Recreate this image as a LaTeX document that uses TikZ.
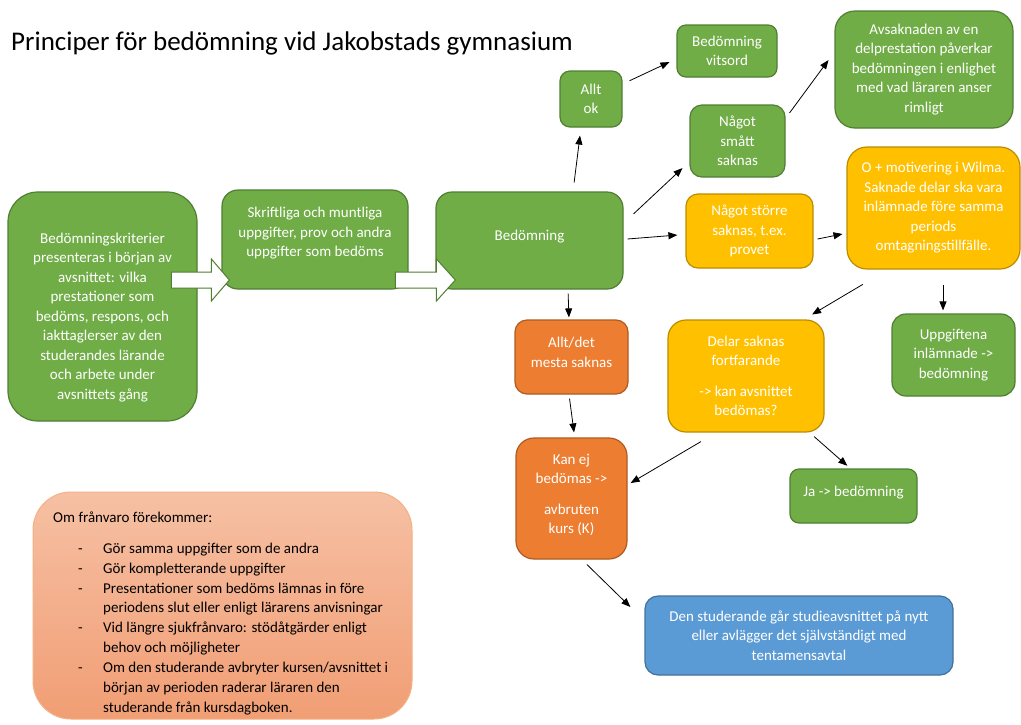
\documentclass[tikz,border=0pt]{standalone}
\usepackage{fontspec}
\setmainfont{Carlito}
\usepackage{xcolor}
\usetikzlibrary{arrows.meta}
\usetikzlibrary{calc}
\definecolor{gfill}{HTML}{70AD47}
\definecolor{gline}{HTML}{507E32}
\definecolor{ofill}{HTML}{ED7D31}
\definecolor{oline}{HTML}{AE5A21}
\definecolor{yfill}{HTML}{FFC000}
\definecolor{yline}{HTML}{BC8C00}
\definecolor{bfill}{HTML}{5B9BD5}
\definecolor{bline}{HTML}{41719C}
\definecolor{ptop}{RGB}{246, 192, 164}
\definecolor{pbot}{RGB}{241, 158, 116}
\definecolor{pline}{RGB}{244, 177, 131}

\begin{document}
\begin{tikzpicture}[x=1pt, y=-1pt,
    box/.style={line width=1.2pt, text=white, align=center, inner sep=0pt,
        font=\fontsize{15}{19.5}\selectfont},
    grn/.style={box, fill=gfill, draw=gline},
    org/.style={box, fill=ofill, draw=oline},
    ylw/.style={box, fill=yfill, draw=yline},
    blu/.style={box, fill=bfill, draw=bline},
    arr/.style={line width=0.8pt, -{Triangle[length=9pt, width=7pt]}},
    blockarrow/.style={fill=white, draw=gline, line width=1pt}]
    \useasboundingbox (0,0) rectangle (1021,724);

    \node[anchor=base west, inner sep=0pt, font=\fontsize{27}{31}\selectfont] (title) at (11,50) {Principer för bedömning vid Jakobstads gymnasium};

    % left column
    \node[grn, minimum width=189pt, minimum height=229pt, rounded corners=30pt] (krit) at (102.5,306.5) {\strut\\[-1pt]Bedömningskriterier\\presenteras i början av\\avsnittet: vilka\\prestationer som\\bedöms, respons, och\\iakttaglerser av den\\studerandes lärande\\och arbete under\\avsnittets gång};
    \node[grn, minimum width=186pt, minimum height=99pt, rounded corners=16pt] (upg) at (315,239.5) {Skriftliga och muntliga\\uppgifter, prov och andra\\uppgifter som bedöms\\[-5pt]\mbox{}};
    \node[grn, minimum width=187pt, minimum height=97pt, rounded corners=16pt] (bed) at (529.5,240.5) {Bedömning\\[-10pt]\mbox{}};

    % upper branch
    \node[grn, minimum width=62pt, minimum height=56pt, rounded corners=10pt] (alltok) at (591,99) {Allt\\ok};
    \node[grn, minimum width=100pt, minimum height=52pt, rounded corners=9pt] (vitsord) at (727,51) {Bedömning\\vitsord};
    \node[grn, minimum width=95pt, minimum height=72pt, rounded corners=12pt] (smatt) at (737.5,141) {Något\\smått\\saknas};
    \node[grn, minimum width=178pt, minimum height=117pt, rounded corners=20pt] (avsak) at (924,69.5) {Avsaknaden av en\\delprestation påverkar\\bedömningen i enlighet\\med vad läraren anser\\rimligt};
    \node[ylw, minimum width=127pt, minimum height=74pt, rounded corners=12pt] (storre) at (749.5,231) {Något större\\saknas, t.ex.\\provet};
    \node[ylw, minimum width=173pt, minimum height=122pt, rounded corners=20pt] (omot) at (933.5,208) {O + motivering i Wilma.\\Saknade delar ska vara\\inlämnade före samma\\periods\\omtagningstillfälle.};

    % lower branch
    \node[org, minimum width=113pt, minimum height=74pt, rounded corners=12pt] (alltdet) at (571.5,357) {Allt/det\\mesta saknas\\[-10pt]\mbox{}};
    \node[org, minimum width=111pt, minimum height=121pt, rounded corners=18pt] (kanej) at (571.5,498.5) {Kan ej\\bedömas ->\\[11pt]avbruten\\kurs (K)\\[-10pt]\mbox{}};
    \node[ylw, minimum width=156pt, minimum height=112pt, rounded corners=18pt] (delar) at (746,376) {Delar saknas\\fortfarande\\[11pt]-> kan avsnittet\\bedömas?};
    \node[grn, minimum width=123pt, minimum height=82pt, rounded corners=14pt] (uppgl) at (953.5,355) {Uppgiftena\\inlämnade ->\\bedömning};
    \node[grn, minimum width=127pt, minimum height=54pt, rounded corners=9pt] (ja) at (853.5,496) {Ja -> bedömning\\[-10pt]\mbox{}};
    \node[blu, minimum width=308pt, minimum height=79pt, rounded corners=13pt] (den) at (799,635.5) {Den studerande går studieavsnittet på nytt\\eller avlägger det självständigt med\\tentamensavtal};

    % absence box
    \node[draw=pline, line width=1pt, top color=ptop, bottom color=pbot, minimum width=379pt, minimum height=227pt, rounded corners=38pt] (franv) at (222.5,605.5) {};
    \node[anchor=north west, align=left, inner sep=0pt, font=\fontsize{15}{19.9}\selectfont] (franvtext) at (53,512) {Om frånvaro förekommer:\\[10.5pt]
        \makebox[50pt][l]{\hspace*{25pt}-}Gör samma uppgifter som de andra\\
        \makebox[50pt][l]{\hspace*{25pt}-}Gör kompletterande uppgifter\\
        \makebox[50pt][l]{\hspace*{25pt}-}Presentationer som bedöms lämnas in före\\
        \hspace*{50pt}periodens slut eller enligt lärarens anvisningar\\
        \makebox[50pt][l]{\hspace*{25pt}-}Vid längre sjukfrånvaro: stödåtgärder enligt\\
        \hspace*{50pt}behov och möjligheter\\
        \makebox[50pt][l]{\hspace*{25pt}-}Om den studerande avbryter kursen/avsnittet i\\
        \hspace*{50pt}början av perioden raderar läraren den\\
        \hspace*{50pt}studerande från kursdagboken.};

    % block arrows
    \draw[blockarrow] ($(upg.west)+(8,40.5)$) -- ++(-18,-21) -- ++(0,13) -- ++(-40,0) -- ++(0,16) -- ++(40,0) -- ++(0,13) -- cycle;
    \draw[blockarrow] ($(bed.west)+(20,39.5)$) -- ++(-19,-21) -- ++(0,13) -- ++(-41,0) -- ++(0,16) -- ++(41,0) -- ++(0,13) -- cycle;

    % connectors
    \draw[arr, shorten <=9pt, shorten >=8pt] ($(bed.north)+(43.5,0)$) -- ($(alltok.south)+(-10,0)$);
    \draw[arr, shorten <=7.7pt, shorten >=7.7pt] ($(alltok.east)+(0,-15)$) -- ($(vitsord.west)+(0,7.8)$);
    \draw[arr, shorten <=13.6pt, shorten >=9.5pt] ($(bed.east)+(0,-17.3)$) -- ($(smatt.west)+(0,20.6)$);
    \draw[arr, shorten <=4pt, shorten >=8pt] ($(bed.east)+(0,-1.2)$) -- ($(storre.west)+(0,3.4)$);
    \draw[arr, shorten <=6.6pt, shorten >=10pt] ($(smatt.east)+(0,-22.7)$) -- ($(avsak.west)+(0,-17.5)$);
    \draw[arr, shorten <=4pt, shorten >=4pt] ($(storre.east)+(0,8.8)$) -- ($(omot.west)+(0,25.2)$);
    \draw[arr, shorten <=28.9pt, shorten >=9.6pt] ($(omot.south)+(-45.8,0)$) -- ($(delar.north)+(57.8,0)$);
    \draw[arr, shorten <=15pt, shorten >=3pt] ($(omot.south)+(9.5,0)$) -- ($(uppgl.north)+(-10.5,0)$);
    \draw[arr, shorten <=4pt, shorten >=2pt] ($(bed.south)+(38.5,0)$) -- ($(alltdet.north)+(-2.5,0)$);
    \draw[arr, shorten <=4pt, shorten >=5pt] ($(alltdet.south)+(-2.5,0)$) -- ($(kanej.north)+(3.2,0)$);
    \draw[arr, shorten <=17.7pt, shorten >=3.5pt] ($(delar.south)+(-29.8,0)$) -- ($(kanej.east)+(0,-13.7)$);
    \draw[arr, shorten <=6pt, shorten >=4pt] ($(delar.south)+(63.6,0)$) -- ($(ja.north)+(-3.2,0)$);
    \draw[arr, shorten <=7pt, shorten >=19.6pt] ($(kanej.south)+(10.4,0)$) -- ($(den.west)+(0,-14.8)$);
\end{tikzpicture}
\end{document}
